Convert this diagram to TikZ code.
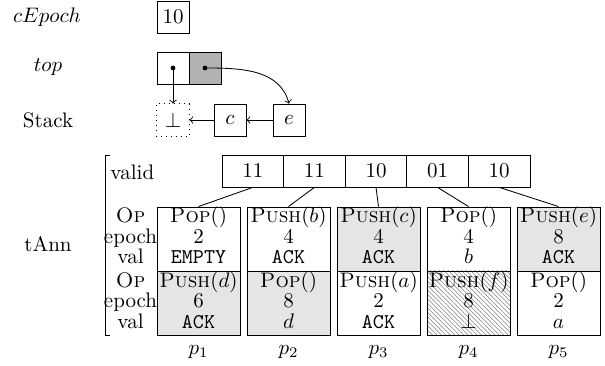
\documentclass[tikz,border=0pt]{standalone}
\usetikzlibrary{patterns.meta}
\newcommand{\opPop}{\textsc{Pop}()}
\newcommand{\opPush}[1]{\textsc{Push}($#1$)}
\begin{document}
\begin{tikzpicture}[x=0.476pt,y=-0.476pt,
  box/.style={draw,minimum width=15.2pt,minimum height=15.2pt,inner sep=0pt},
  vcell/.style={draw,minimum width=29.3pt,minimum height=15.2pt,inner sep=0pt},
  col/.style={draw,minimum width=39.5pt,minimum height=30.5pt,inner sep=0pt},
  txt/.style={inner sep=0pt,text height=7pt,text depth=2pt},
  shade/.style={fill=black!10},
  hatch/.style={pattern={Lines[angle=-45,distance=1.5pt,line width=0.25pt]},pattern color=black!50},
  divider/.style={line width=0.9pt}]
\useasboundingbox (0,0) rectangle (605,366);

% top area
\node (lce) at (47,17) {$cEpoch$};
\node[box] (ce) at (173,17) {10};
\node (ltop) at (48,67) {$top$};
\node[box] (tl) at (173,68) {};
\node[box,fill=black!30] (tr) at (205,68) {};
\node (lstack) at (48,120) {Stack};
\node[box,draw=none] (bot) at (173,120) {$\bot$};
\draw[dotted] (bot.south west) rectangle (bot.north east);
\node[box] (c) at (230,120) {$c$};
\node[box] (e) at (289,120) {$e$};
\fill (tl.center) circle (1.15pt);
\fill (tr.center) circle (1.15pt);
\draw[->] (tl.center) -- (bot.north);
\draw[->] (tr.center) to[out=0,in=105] (e.north);
\draw[->] (e) -- (c);
\draw[->] (c) -- (bot);

% tAnn
\node (ltann) at (48,244) {tAnn};
\draw (110,155) -- (105,155) -- (105,335) -- (110,335);
\node[anchor=west,inner sep=0pt] (lvalid) at (110,172) {valid};
\node[txt] (lop1) at (130.5,217) {\textsc{Op}};
\node[txt] (lep1) at (130.5,238) {epoch};
\node[txt] (lval1) at (130.5,258) {val};
\node[txt] (lop2) at (130.5,282) {\textsc{Op}};
\node[txt] (lep2) at (130.5,302) {epoch};
\node[txt] (lval2) at (130.5,323) {val};

% valid array
\node[vcell] (v1) at (252.8,171) {11};
\node[vcell] (v2) at (314.4,171) {11};
\node[vcell] (v3) at (376,171) {10};
\node[vcell] (v4) at (437.6,171) {01};
\node[vcell] (v5) at (499.2,171) {10};

% columns
\node[col] (u1) at (198.5,239) {};
\node[col,shade] (d1) at (198.5,303) {};
\node[col] (u2) at (288.5,239) {};
\node[col,shade] (d2) at (288.5,303) {};
\node[col,shade] (u3) at (378.5,239) {};
\node[col] (d3) at (378.5,303) {};
\node[col] (u4) at (468.5,239) {};
\node[col,hatch] (d4) at (468.5,303) {};
\node[col,shade] (u5) at (558.5,239) {};
\node[col] (d5) at (558.5,303) {};
\foreach \i in {1,...,5}{
  \draw[divider] (u\i.south west) -- (u\i.south east);
  \draw (v\i.south) -- (u\i.north);
}

% column texts
\node[txt] (a1) at (198.5,217) {\opPop};
\node[txt] (b1) at (198.5,238) {2};
\node[txt] (c1) at (198.5,258) {\texttt{EMPTY}};
\node[txt] (e1) at (198.5,282) {\opPush{d}};
\node[txt] (f1) at (198.5,302) {6};
\node[txt] (g1) at (198.5,323) {\texttt{ACK}};

\node[txt] (a2) at (288.5,217) {\opPush{b}};
\node[txt] (b2) at (288.5,238) {4};
\node[txt] (c2) at (288.5,258) {\texttt{ACK}};
\node[txt] (e2) at (288.5,282) {\opPop};
\node[txt] (f2) at (288.5,302) {8};
\node[txt] (g2) at (288.5,323) {$d$};

\node[txt] (a3) at (378.5,217) {\opPush{c}};
\node[txt] (b3) at (378.5,238) {4};
\node[txt] (c3) at (378.5,258) {\texttt{ACK}};
\node[txt] (e3) at (378.5,282) {\opPush{a}};
\node[txt] (f3) at (378.5,302) {2};
\node[txt] (g3) at (378.5,323) {\texttt{ACK}};

\node[txt] (a4) at (468.5,217) {\opPop};
\node[txt] (b4) at (468.5,238) {4};
\node[txt] (c4) at (468.5,258) {$b$};
\node[txt] (e4) at (468.5,282) {\opPush{f}};
\node[txt] (f4) at (468.5,302) {8};
\node[txt] (g4) at (468.5,323) {$\bot$};

\node[txt] (a5) at (558.5,217) {\opPush{e}};
\node[txt] (b5) at (558.5,238) {8};
\node[txt] (c5) at (558.5,258) {\texttt{ACK}};
\node[txt] (e5) at (558.5,282) {\opPop};
\node[txt] (f5) at (558.5,302) {2};
\node[txt] (g5) at (558.5,323) {$a$};

% process labels
\node (p1) at (198.5,352) {$p_1$};
\node (p2) at (288.5,352) {$p_2$};
\node (p3) at (378.5,352) {$p_3$};
\node (p4) at (468.5,352) {$p_4$};
\node (p5) at (558.5,352) {$p_5$};
\end{tikzpicture}
\end{document}
